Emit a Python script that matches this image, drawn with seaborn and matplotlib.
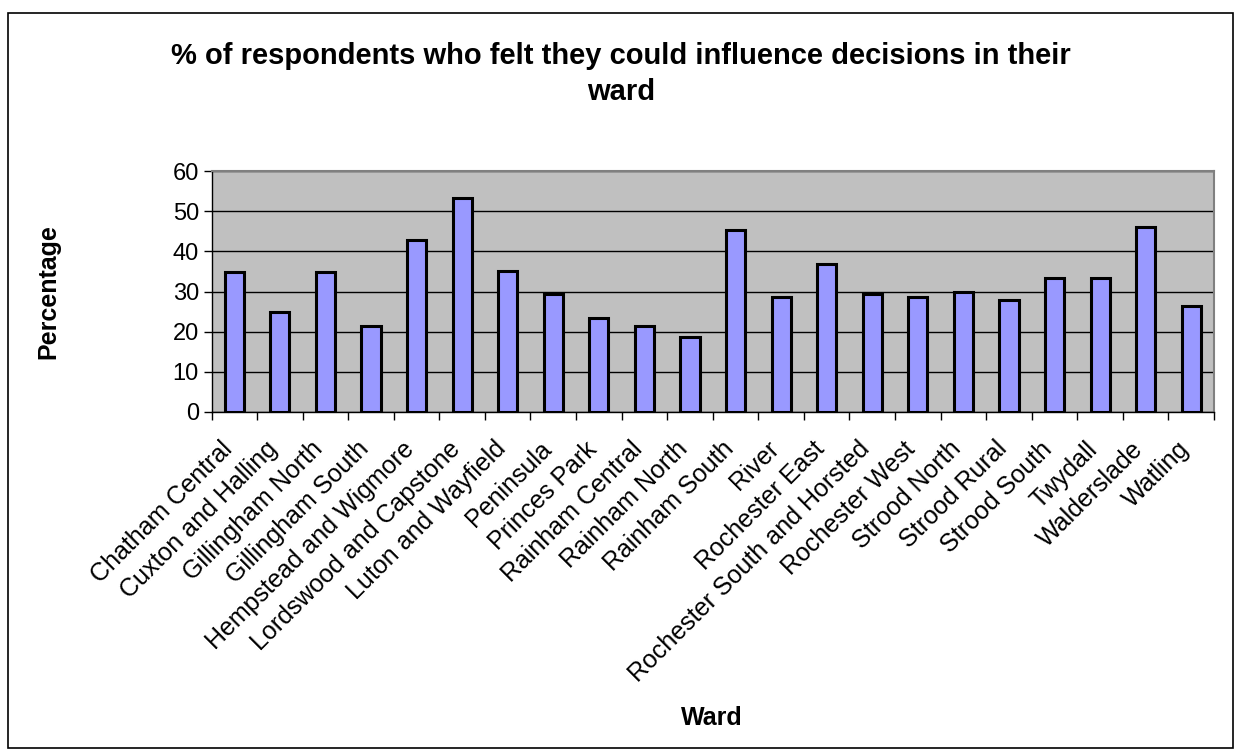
import matplotlib
matplotlib.use("Agg")
import matplotlib.pyplot as plt
import matplotlib.patches as patches
import matplotlib.transforms as mtransforms
import numpy as np
import pandas as pd
import seaborn as sns

wards = ['Chatham Central', 'Cuxton and Halling', 'Gillingham North', 'Gillingham South',
         'Hempstead and Wigmore', 'Lordswood and Capstone', 'Luton and Wayfield', 'Peninsula',
         'Princes Park', 'Rainham Central', 'Rainham North', 'Rainham South', 'River',
         'Rochester East', 'Rochester South and Horsted', 'Rochester West', 'Strood North',
         'Strood Rural', 'Strood South', 'Twydall', 'Walderslade', 'Watling']
percentages = [34.8, 25.0, 34.8, 21.3, 42.9, 53.3, 35.2, 29.5, 23.5, 21.4, 18.7,
               45.4, 28.6, 36.9, 29.3, 28.6, 29.9, 27.8, 33.3, 33.3, 46.1, 26.3]
y_ticks = [0, 10, 20, 30, 40, 50, 60]

df = pd.DataFrame({'Ward': wards, 'Percentage': percentages})

sns.set_style('white')
plt.rcParams['font.family'] = ['Liberation Sans', 'DejaVu Sans']
plt.rcParams['text.color'] = 'black'
plt.rcParams['xtick.color'] = 'black'
plt.rcParams['ytick.color'] = 'black'

W, H = 1235, 751
fig = plt.figure(figsize=(W / 100, H / 100), dpi=100)
ax = fig.add_axes([211.5 / W, 1 - 412 / H, (1214 - 211.5) / W, (412 - 171) / H])

ax.set_facecolor('#C0C0C0')
ax.set_axisbelow(True)
ax.yaxis.grid(True, color='black', linewidth=1)

sns.barplot(data=df, x='Ward', y='Percentage', color='#9999FF', edgecolor='black',
            linewidth=2.2, width=0.42, saturation=1, ax=ax)

ax.set_ylim(0, 60)
ax.set_xlim(-0.5, len(wards) - 0.5)
ax.set_yticks(y_ticks)
ax.set_yticklabels([str(t) for t in y_ticks], fontsize=17)
ax.tick_params(axis='y', direction='out', length=6, width=1, color='black', pad=3, left=True)

# category labels at centres, tick marks between categories
ax.set_xticks(np.arange(len(wards)))
ax.set_xticklabels(wards, rotation=45, ha='right', va='center', rotation_mode='anchor',
                   fontsize=18)
ax.tick_params(axis='x', which='major', length=0, pad=24)
ax.set_xticks(np.arange(-0.5, len(wards), 1), minor=True)
ax.tick_params(axis='x', which='minor', direction='out', length=6, width=1, color='black', bottom=True)

# nudge the rotated labels a little to the left
nudge = mtransforms.ScaledTranslation(-6 / 100, 0, fig.dpi_scale_trans)
for tick in ax.xaxis.get_major_ticks():
    tick.label1.set_transform(tick.label1.get_transform() + nudge)

for side in ['top', 'right']:
    ax.spines[side].set_color('#808080')
    ax.spines[side].set_linewidth(1.5)
for side in ['left', 'bottom']:
    ax.spines[side].set_color('black')
    ax.spines[side].set_linewidth(1)

ax.set_xlabel('')
ax.set_ylabel('')

fig.text(0.503, 1 - 74 / H, '% of respondents who felt they could influence decisions in their\nward',
         ha='center', va='center', fontsize=21, fontweight='bold', linespacing=1.35)
fig.text(48 / W, 1 - 292 / H, 'Percentage', rotation=90, ha='center', va='center',
         fontsize=18, fontweight='bold')
fig.text(712 / W, 1 - 718 / H, 'Ward', ha='center', va='center', fontsize=18, fontweight='bold')

fig.patches.append(patches.Rectangle((8 / W, 3 / H), (1233 - 8) / W, (748 - 13) / H,
                                     transform=fig.transFigure, fill=False,
                                     edgecolor='black', linewidth=1.2))

fig.savefig('out.png', dpi=100)
